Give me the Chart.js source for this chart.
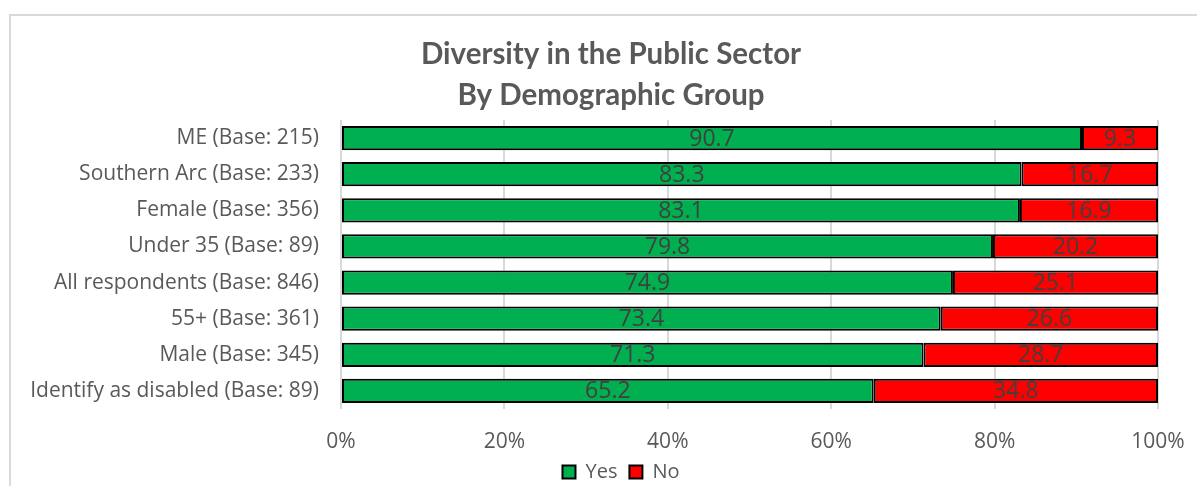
<!DOCTYPE html>
<html>
<head>
<meta charset="utf-8">
<script src="https://cdn.jsdelivr.net/npm/chart.js@4/dist/chart.umd.min.js"></script>
<style>
  html, body { margin: 0; padding: 0; background: #fff; overflow: hidden; }
  #frame { position: absolute; left: 9px; top: 14px; width: 1300px; height: 600px; border: 2px solid #d9d9d9; box-sizing: border-box; }
  #wrap { position: absolute; left: 9px; top: 14px; width: 1204px; height: 478px; }
</style>
</head>
<body>
<div id="frame"></div>
<div id="wrap"><canvas id="diversityChart"></canvas></div>
<script>
// Dados
const categorias = [
    'ME (Base: 215)',
    'Southern Arc (Base: 233)',
    'Female (Base: 356)',
    'Under 35 (Base: 89)',
    'All respondents (Base: 846)',
    '55+ (Base: 361)',
    'Male (Base: 345)',
    'Identify as disabled (Base: 89)'
];
const valoresSim = [90.7, 83.3, 83.1, 79.8, 74.9, 73.4, 71.3, 65.2];
const valoresNao = [9.3, 16.7, 16.9, 20.2, 25.1, 26.6, 28.7, 34.8];
const ticksX = [0, 20, 40, 60, 80, 100];

const fonte = '"Open Sans", Lato, sans-serif';
const fonteTitulo = 'Lato, "Open Sans", sans-serif';
const cinza = '#595959';

// Rótulos de valor no centro de cada segmento
const rotulosPlugin = {
    id: 'rotulos',
    afterLayout(chart) {
        // legenda um pouco à direita, como no original
        if (chart.legend) {
            chart.legend.left += 10;
            chart.legend.right += 10;
        }
    },
    afterDatasetsDraw(chart) {
        const ctx = chart.ctx;
        ctx.save();
        ctx.font = '23px ' + fonte;
        ctx.fillStyle = '#404040';
        ctx.textAlign = 'center';
        ctx.textBaseline = 'middle';
        chart.data.datasets.forEach(function(ds, i) {
            const meta = chart.getDatasetMeta(i);
            meta.data.forEach(function(bar, j) {
                const p = bar.getProps(['x', 'y', 'base'], true);
                ctx.fillText(ds.data[j].toFixed(1), (p.x + p.base) / 2, p.y + 1);
            });
        });
        ctx.restore();
    }
};

document.addEventListener('DOMContentLoaded', function() {
    const ctx = document.getElementById('diversityChart');
    new Chart(ctx.getContext('2d'), {
        type: 'bar',
        data: {
            labels: categorias,
            datasets: [{
                label: 'Yes',
                data: valoresSim,
                backgroundColor: '#00b050',
                borderColor: '#000000',
                borderWidth: 2,
                borderSkipped: false,
                barPercentage: 0.67,
                categoryPercentage: 1
            }, {
                label: 'No',
                data: valoresNao,
                backgroundColor: '#ff0000',
                borderColor: '#000000',
                borderWidth: 2,
                borderSkipped: false,
                barPercentage: 0.67,
                categoryPercentage: 1
            }]
        },
        options: {
            indexAxis: 'y',
            responsive: true,
            maintainAspectRatio: false,
            animation: false,
            layout: { padding: 0 },
            scales: {
                x: {
                    stacked: true,
                    min: 0,
                    max: 100,
                    afterBuildTicks: function(scale) {
                        scale.ticks = ticksX.map(function(v) { return { value: v }; });
                    },
                    afterFit: function(scale) {
                        scale.height = 41;
                        scale.paddingRight = 55;
                    },
                    grid: { color: '#d9d9d9', lineWidth: 2, drawTicks: false },
                    border: { display: false },
                    ticks: {
                        padding: 20,
                        color: cinza,
                        font: { family: fonte, size: 21 },
                        callback: function(v) { return v + '%'; }
                    }
                },
                y: {
                    stacked: true,
                    grid: { display: false },
                    border: { display: false },
                    afterFit: function(scale) { scale.width = 332; },
                    ticks: {
                        padding: 14,
                        color: cinza,
                        font: { family: fonte, size: 21 }
                    }
                }
            },
            plugins: {
                title: {
                    display: true,
                    text: ['Diversity in the Public Sector', 'By Demographic Group'],
                    color: cinza,
                    font: { family: fonteTitulo, size: 29.5, weight: 'bold', lineHeight: 1.39 },
                    padding: { top: 20, bottom: 4 }
                },
                legend: {
                    position: 'bottom',
                    labels: {
                        boxWidth: 13,
                        boxHeight: 13,
                        color: cinza,
                        padding: 12,
                        font: { family: fonte, size: 20 }
                    }
                },
                tooltip: { enabled: false }
            }
        },
        plugins: [rotulosPlugin]
    });
});
</script>
</body>
</html>
